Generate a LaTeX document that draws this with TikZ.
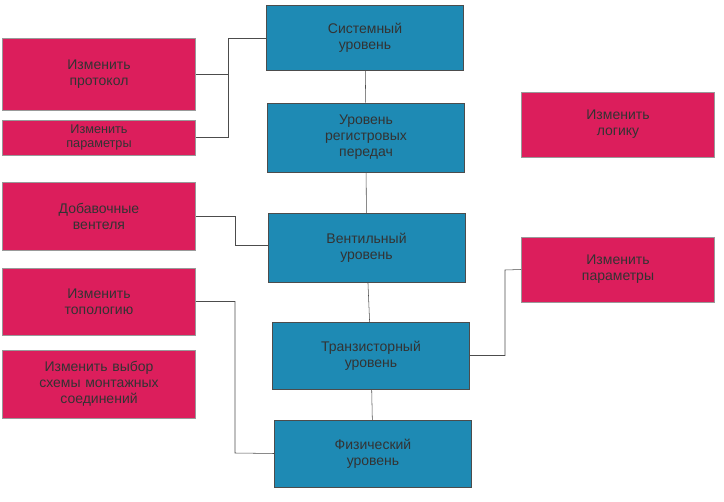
\documentclass[tikz,border=0pt]{standalone}
\usepackage{fontspec}
\setmainfont{Liberation Sans}
\usetikzlibrary{positioning,calc}
\definecolor{lvlblue}{HTML}{1E8AB4}
\definecolor{actred}{HTML}{DC1E5C}
\begin{document}
\begin{tikzpicture}
[x=0.75pt,y=-0.75pt,
    level/.style={draw=black!70,fill=lvlblue,text=black!80,minimum width=148pt,
    text width=140pt,align=center,font=\fontsize{10.5}{12}\selectfont,inner sep=1pt},
    act/.style={draw=black!40,fill=actred,text=black!80,minimum width=145pt,
    text width=140pt,align=center,font=\fontsize{10.5}{12}\selectfont,inner sep=1pt},
    link/.style={draw=black!70,thin}]
\useasboundingbox (0,0) rectangle (724,502);
%% levels
\node (sys) [level,minimum height=49pt] at (365,37.5) {Системный\\уровень};
\node (rtl) [level,minimum height=52pt] at (366,137.5) {Уровень\\регистровых\\передач};
\node (gate) [level,minimum height=52pt] at (366.5,248) {Вентильный\\уровень};
\node (tran) [level,minimum height=50pt] at (371,355.5) {Транзисторный\\уровень};
\node (phys) [level,minimum height=50pt] at (373,453.5) {Физический\\уровень};
%% actions
\node (proto) [act,minimum height=54pt] at (99,74) {Изменить\\протокол};
\node (parl) [act,minimum height=26pt,font=\fontsize{9.5}{11}\selectfont] at (99,137.5) {Изменить\\параметры};
\node (addg) [act,minimum height=51pt] at (99,216) {Добавочные\\вентеля};
\node (topo) [act,minimum height=50pt] at (99,301.5) {Изменить\\топологию};
\node (choice) [act,minimum height=51pt] at (99,384) {Изменить выбор\\схемы монтажных\\соединений};
\node (logic) [act,minimum height=49pt] at (618,124.5) {Изменить\\логику};
\node (parr) [act,minimum height=49pt] at (618,269.5) {Изменить\\параметры};
%% edges
\draw[link] (sys) -- (rtl);
\draw[link] (rtl) -- (gate);
\draw[link] (gate) -- (tran);
\draw[link] (tran) -- (phys);
\draw[link] (proto.east) -| (228,38) -- (sys.west|-0,38);
\draw[link] (parl.east) -| (228,70);
\draw[link] (addg.east) -| (235,245) -- (gate.west|-0,245);
\draw[link] (topo.east) -| (235,453) -- (phys.west);
\draw[link] (tran.east) -| (505,270) -- (parr.west);
\end{tikzpicture}
\end{document}
